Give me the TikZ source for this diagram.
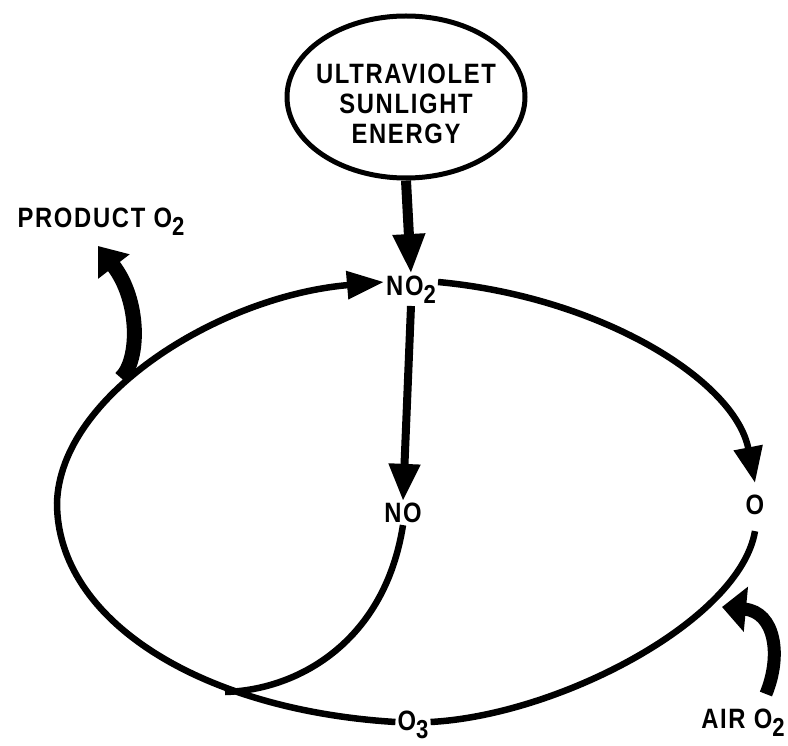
\documentclass[tikz,border=0pt]{standalone}
\usepackage{fontspec}
\usetikzlibrary{arrows.meta,shapes.geometric}
\newfontfamily\letterfont{Liberation Sans}[FakeStretch=0.85,LetterSpace=6]
\newcommand{\lowsub}[1]{\raisebox{-8pt}{\fontsize{26}{26}\selectfont #1}}

\begin{document}
\begin{tikzpicture}[
    x=1pt, y=-1pt,
    lbl/.style={font=\letterfont\bfseries\fontsize{28}{30}\selectfont, inner sep=2pt, align=center},
    uvbox/.style={lbl, ellipse, draw, line width=5pt, minimum width=238pt, minimum height=162pt, inner xsep=-10pt, inner ysep=0pt},
    cyc/.style={line width=6.5pt},
    fat/.style={line width=#1}
]
\useasboundingbox (0,0) rectangle (788,746);

\node[uvbox] (uv) at (406,97) {\rule{0pt}{34pt}ULTRAVIOLET\\SUNLIGHT\\ENERGY};
\node[lbl] (no2) at (411,290) {NO\lowsub{2}};
\node[lbl] (no) at (403,513) {NO};
\node[lbl] (o) at (755,505) {O};
\node[lbl] (o3) at (413,725) {O\lowsub{3}};
\node[lbl] (prod) at (101,222) {PRODUCT O\lowsub{2}};
\node[lbl] (air) at (743,723) {AIR O\lowsub{2}};

\coordinate (merge) at (225,692);
\coordinate (split) at (121,378);
\coordinate (join) at (722,607);

\draw[fat=10pt, -{Triangle[length=40pt,width=30pt]}] (uv.south) -- (no2.north);
\draw[fat=8pt, -{Triangle[length=37pt,width=30pt]}] (no2.south) -- (no.north);
\draw[cyc, -{Triangle[length=36pt,width=28pt]}] ([yshift=8pt]no2.east) .. controls (600,297) and (735,380) .. ([yshift=10pt]o.north);
\draw[cyc] ([yshift=-14pt]o.south) .. controls (740,620) and (560,715) .. ([yshift=3pt]o3.east);
\draw[cyc, -{Triangle[length=37pt,width=27pt]}] ([yshift=3pt]o3.west) .. controls (200,710) and (57,620) .. (57,503) .. controls (60,395) and (220,296) .. ([yshift=8pt]no2.west);
\draw[cyc] (no.south) .. controls (385,640) and (300,690) .. (merge);
\draw[fat=15pt, -{Triangle[length=26pt,width=38pt]}] (split) .. controls (140,360) and (140,300) .. ([xshift=-3pt,yshift=-8pt]prod.south);
\draw[fat=13pt, -{Triangle[length=24pt,width=44pt]}] ([xshift=-21pt,yshift=13pt]air.north east) .. controls (782,655) and (775,612) .. (join);
\end{tikzpicture}
\end{document}
